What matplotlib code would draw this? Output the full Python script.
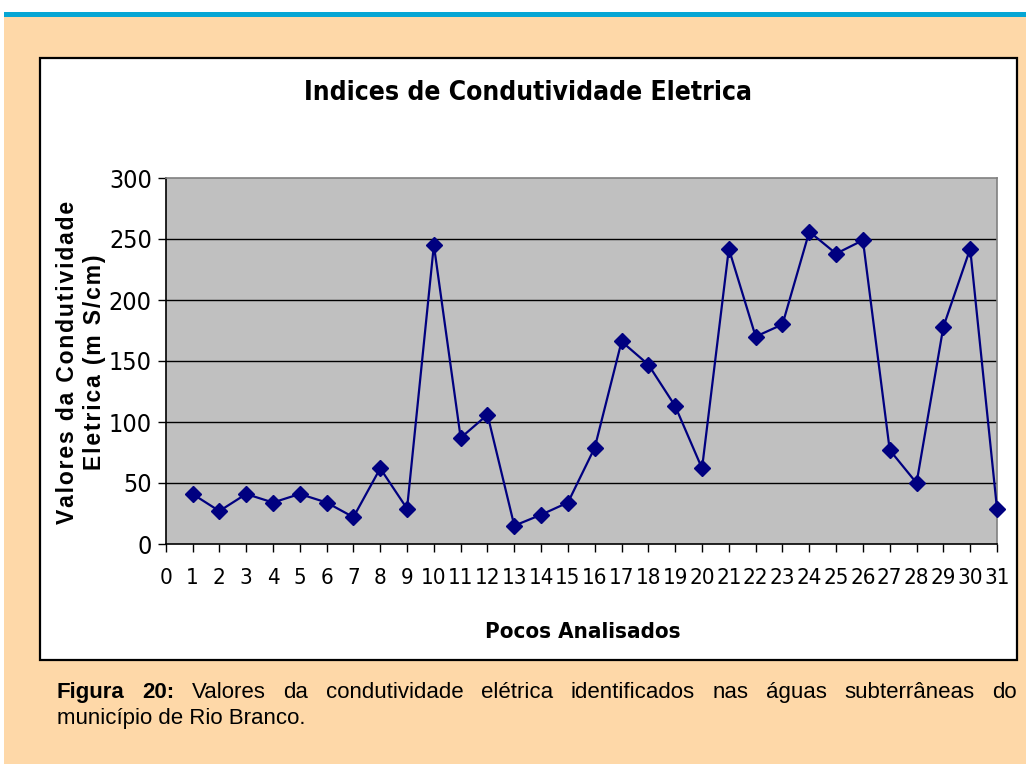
import matplotlib
matplotlib.use("Agg")
import matplotlib.pyplot as plt
from matplotlib.patches import Rectangle
from matplotlib import font_manager

# data
pocos = list(range(1, 32))
condutividade = [41, 27, 41, 34, 41, 34, 22, 62, 29, 245,
                 87, 106, 15, 24, 34, 79, 166, 147, 113, 62,
                 242, 170, 180, 256, 238, 249, 77, 50, 178, 242, 29]
xticks = list(range(0, 32))
yticks = [0, 50, 100, 150, 200, 250, 300]

# look for a condensed face, otherwise fall back on Liberation Sans
narrow = None
for f in font_manager.fontManager.ttflist:
    st = str(f.stretch).lower()
    if "narrow" in f.name.lower() or "condensed" in f.name.lower() or st in ("condensed", "semi-condensed", "extra-condensed"):
        narrow = f
        break
arial = "Liberation Sans"

W, H = 1026, 764
fig = plt.figure(figsize=(W / 100, H / 100), dpi=100)
fig.patch.set_facecolor("white")

def fx(px):
    return px / W

def fy(py):
    return 1 - py / H

def nfont(size, weight="normal"):
    if narrow is not None:
        return font_manager.FontProperties(family=narrow.name, stretch=narrow.stretch,
                                           weight=weight, size=size)
    return font_manager.FontProperties(family=arial, weight=weight, size=size * 0.85)

# page background, blue band and white chart box
fig.patches.append(Rectangle((fx(4), 0), 1, fy(17), transform=fig.transFigure,
                             facecolor="#FED8A8", edgecolor="none", zorder=0))
fig.patches.append(Rectangle((fx(4), fy(17)), 1, 5 / H, transform=fig.transFigure,
                             facecolor="#06A6D4", edgecolor="none", zorder=0))
fig.patches.append(Rectangle((fx(40), fy(660)), fx(1017) - fx(40), fy(58) - fy(660),
                             transform=fig.transFigure, facecolor="white",
                             edgecolor="black", linewidth=1.6, zorder=1))

ax = fig.add_axes([fx(165.7), fy(544), fx(997) - fx(165.7), fy(178) - fy(544)], zorder=2)
ax.set_facecolor("#C0C0C0")
ax.plot(pocos, condutividade, color="#000080", linewidth=1.6, marker="D",
        markersize=8, markerfacecolor="#000080", markeredgecolor="#000080",
        clip_on=False, zorder=3)

ax.set_xlim(0, 31)
ax.set_ylim(0, 300)
ax.set_xticks(xticks)
ax.set_yticks(yticks)
ax.set_xticklabels([str(v) for v in xticks], fontproperties=nfont(16))
ax.set_yticklabels([str(v) for v in yticks], fontproperties=nfont(18))
ax.tick_params(axis="both", direction="out", length=6, width=1, color="black")
ax.tick_params(axis="x", pad=11)
ax.tick_params(axis="y", pad=4)
for y in yticks[1:-1]:
    ax.axhline(y, color="black", linewidth=1, zorder=1)
ax.spines["left"].set_color("black")
ax.spines["bottom"].set_color("black")
ax.spines["top"].set_color("#808080")
ax.spines["right"].set_color("#808080")
for s in ax.spines.values():
    s.set_linewidth(1.2)

fig.text(fx(528), fy(93), "Indices de Condutividade Eletrica", ha="center", va="center",
         fontproperties=nfont(19, "bold"))
fig.text(fx(583), fy(632), "Pocos Analisados", ha="center", va="center",
         fontproperties=nfont(16, "bold"))
hs = "\u200a"
fig.text(fx(68), fy(362), hs.join("Valores da Condutividade"), ha="center", va="center",
         rotation=90, fontfamily=arial, fontweight="bold", fontsize=16.5)
fig.text(fx(95), fy(362), hs.join("Eletrica (m S/cm)"), ha="center", va="center",
         rotation=90, fontfamily=arial, fontweight="bold", fontsize=16.5)

# caption, first line justified word by word
renderer = fig.canvas.get_renderer()
line1 = [("Figura", "bold"), ("20:", "bold"), ("Valores", "normal"), ("da", "normal"),
         ("condutividade", "normal"), ("elétrica", "normal"), ("identificados", "normal"),
         ("nas", "normal"), ("águas", "normal"), ("subterrâneas", "normal"), ("do", "normal")]
x0, x1 = 57, 1017
words = []
for w, wt in line1:
    t = fig.text(0, fy(698), w, ha="left", va="baseline", fontfamily=arial,
                 fontweight=wt, fontsize=16)
    words.append(t)
widths = [t.get_window_extent(renderer).width for t in words]
gap = (x1 - x0 - sum(widths)) / (len(words) - 1)
xpos = x0
for t, wd in zip(words, widths):
    t.set_x(fx(xpos))
    xpos += wd + gap
fig.text(fx(57), fy(724), "município de Rio Branco.", ha="left", va="baseline",
         fontfamily=arial, fontsize=16)

fig.savefig("out.png", dpi=100, facecolor=fig.get_facecolor())
